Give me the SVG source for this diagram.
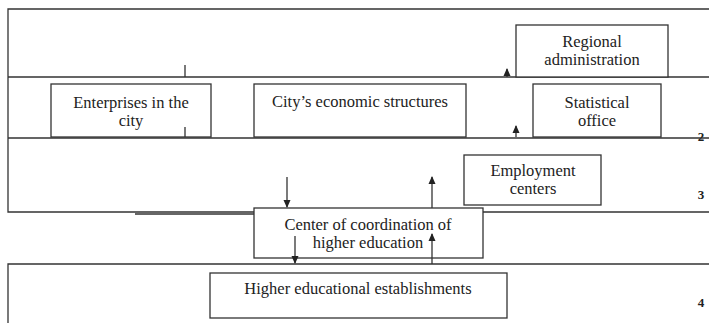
<svg xmlns="http://www.w3.org/2000/svg" width="709" height="323" viewBox="0 0 709 323">
<style>
.ln{stroke:#333;stroke-width:1.3;fill:none}
.bx{fill:#fff;stroke:#333;stroke-width:1.3}
.t{font-family:"Liberation Serif","Times New Roman",serif;font-size:16.5px;fill:#222;text-anchor:middle}
.n{font-family:"Liberation Serif","Times New Roman",serif;font-size:13px;font-weight:bold;fill:#222;text-anchor:middle}
</style>
<defs>
<marker id="ah" markerWidth="8" markerHeight="8" refX="7" refY="4" orient="auto" markerUnits="userSpaceOnUse">
<path d="M0,0.5 L8,4 L0,7.5 Z" fill="#222"/>
</marker>
</defs>
<rect width="709" height="323" fill="#fff"/>
<g id="frame">
<path class="ln" d="M709,9 H8 V212 H255 M483,212 H709 M8,77 H709 M8,138 H709 M8,323 V264 H709"/>
<path class="ln" d="M135,214 H255" stroke-width="1"/>
</g>
<g id="regional-administration">
<rect class="bx" x="516" y="25" width="152" height="52"/>
<text class="t" x="592" y="47">Regional</text>
<text class="t" x="592" y="65">administration</text>
</g>
<g id="enterprises">
<rect class="bx" x="51" y="84" width="160" height="53"/>
<text class="t" x="131" y="108">Enterprises in the</text>
<text class="t" x="131" y="126">city</text>
</g>
<g id="economic-structures">
<rect class="bx" x="254" y="84" width="212" height="53"/>
<text class="t" x="360" y="107">City’s economic structures</text>
</g>
<g id="statistical-office">
<rect class="bx" x="533" y="84" width="128" height="53"/>
<text class="t" x="597" y="108">Statistical</text>
<text class="t" x="597" y="126">office</text>
</g>
<g id="employment-centers">
<rect class="bx" x="464" y="155" width="137" height="50"/>
<text class="t" x="533" y="176">Employment</text>
<text class="t" x="533" y="194">centers</text>
</g>
<g id="center-coordination">
<rect class="bx" x="254" y="208" width="229" height="50"/>
<text class="t" x="368" y="230">Center of coordination of</text>
<text class="t" x="368" y="248">higher education</text>
</g>
<g id="higher-educational">
<rect class="bx" x="210" y="273" width="297" height="45"/>
<text class="t" x="358" y="294">Higher educational establishments</text>
</g>
<g id="labels">
<text class="n" x="701" y="141">2</text>
<text class="n" x="701" y="199">3</text>
<text class="n" x="701" y="307">4</text>
</g>
<g id="connectors">
<path class="ln" d="M185,65 V77 M185,127 V137"/>
<path class="ln" d="M507,77 V69" marker-end="url(#ah)"/>
<path class="ln" d="M516,137 V126" marker-end="url(#ah)"/>
<path class="ln" d="M287,177 V207" marker-end="url(#ah)"/>
<path class="ln" d="M295,236 V263" marker-end="url(#ah)"/>
<path class="ln" d="M432,208 V177" marker-end="url(#ah)"/>
<path class="ln" d="M432,264 V234" marker-end="url(#ah)"/>
</g>
</svg>
